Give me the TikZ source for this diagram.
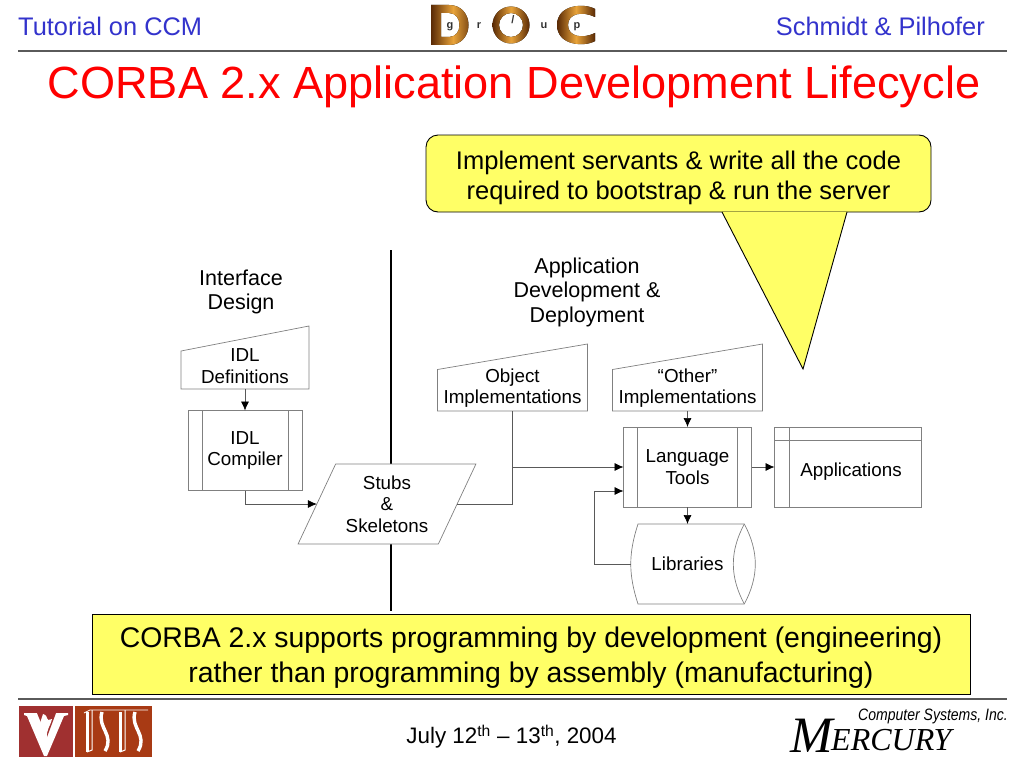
\documentclass[tikz,border=0pt]{standalone}
\usepackage{fontspec}
\setmainfont{Liberation Sans}
\newfontfamily\mercuryfont{Liberation Serif}
\usetikzlibrary{arrows.meta, calc, positioning, shapes.geometric}
\definecolor{calloutYellow}{HTML}{FFFF66}
\definecolor{headerBlue}{HTML}{3333CC}
\definecolor{ruleGray}{HTML}{808080}
\definecolor{boxGray}{HTML}{808080}
\definecolor{vandyRed}{HTML}{A03030}
\definecolor{isisRust}{HTML}{A83A14}
\definecolor{goldDark}{HTML}{5A2A05}
\definecolor{goldLight}{HTML}{E8A33A}
\tikzset{
    boxline/.style={draw=boxGray, line width=0.7pt},
    boxnode/.style={inner sep=0pt, outer sep=0pt, align=center, font=\fontsize{18.8}{21.5}\selectfont},
    slantnode/.style 2 args={boxnode, minimum width=#1, minimum height=#2},
    toolbox/.style={boxnode, boxline, fill=white, minimum width=#1, minimum height=80},
    flowline/.style={draw=black!65, line width=0.7pt, -{Latex[length=9pt, width=8pt, black]}},
    plainline/.style={draw=black!65, line width=0.7pt},
    headnode/.style={inner sep=0pt, align=center, font=\fontsize{21.5}{24.5}\selectfont},
    notebox/.style={draw=black, line width=0.9pt, fill=calloutYellow, inner sep=0pt, outer sep=0pt},
    bannertext/.style={inner sep=0pt, font=\fontsize{25.4}{26}\selectfont, text=headerBlue},
    logoletter/.style={inner sep=0pt, font=\bfseries\fontsize{11}{11}\selectfont, text=black!80},
    goldmetal/.style={left color=goldDark, right color=goldDark, middle color=goldLight, draw=none, even odd rule}
}
\newcommand{\slantoutline}[3]{\draw[boxline] (#1.south west) -- (#1.south east) -- ([yshift=#2pt]#1.north east) -- ([yshift=-#3pt]#1.north west) -- cycle;}
\newcommand{\toolbars}[3]{\foreach \bar/\corner in {#2/west, -#3/east}{\draw[boxline] ([xshift=\bar pt]#1.north \corner) -- ([xshift=\bar pt]#1.south \corner);}}
\begin{document}
\begin{tikzpicture}[x=1pt, y=-1pt]
    \useasboundingbox (0,0) rectangle (1024,768);
    % banner
    \node[bannertext, anchor=base west] (tutorial) at (18,36) {Tutorial on CCM};
    \node[bannertext, anchor=base east] (authors) at (985,36) {Schmidt \& Pilhofer};
    \draw[ruleGray!70!black, line width=1.1pt] (18,51) -- (1007,51);
    \draw[ruleGray!70!black, line width=1.1pt] (18,699) -- (1007,699);
    \node[inner sep=0pt, anchor=base, text=red, font=\fontsize{45.1}{50}\selectfont] (title) at (514,98) {CORBA 2.x Application Development Lifecycle};
    % DOC logo
    \fill[goldmetal] (431,5) -- (449,5) .. controls (475,5) and (475,45) .. (449,45) -- (431,45) -- cycle
        (441,13) -- (449,13) .. controls (463,13) and (463,37) .. (449,37) -- (441,37) -- cycle;
    \fill[goldmetal] (511,25) circle (18.5) (511,25) circle (12);
    \fill[goldmetal] (595,9) .. controls (585,3) and (557,4) .. (557,25) .. controls (557,46) and (585,47) .. (595,41) -- (595,33)
        .. controls (583,39) and (568,37) .. (568,25) .. controls (568,13) and (583,11) .. (595,17) -- cycle;
    \node[logoletter] (logog) at (450,27) {g};
    \node[logoletter] (logor) at (479,26) {r};
    \node[logoletter] (logoi) at (513,20) {/};
    \node[logoletter] (logou) at (544,26) {u};
    \node[logoletter] (logop) at (577,27) {p};
    % divider
    \draw[black, line width=2pt] (391,250) -- (391,611);
    % headings
    \node[headnode] (ifhead) at (241,292) {Interface\\Design};
    \node[headnode] (apphead) at (587,292) {Application\\Development \&\\Deployment};
    % left column
    \node[slantnode={128pt}{46pt}] (idldef) at (245,366) {IDL\\Definitions};
    \slantoutline{idldef}{17}{8}
    \node[toolbox=114pt] (idlcomp) at (245,450.5) {IDL\\Compiler};
    \toolbars{idlcomp}{14}{14}
    \node[trapezium, trapezium left angle=62, trapezium right angle=118, trapezium stretches=true, boxnode, boxline, fill=white, minimum width=178pt, minimum height=80pt] (stubs) at (387,504) {Stubs\\\&\\Skeletons};
    % right column
    \node[slantnode={150pt}{46pt}] (objimpl) at (512.5,388) {Object\\Implementations};
    \slantoutline{objimpl}{21}{4.5}
    \node[slantnode={150pt}{46pt}] (othimpl) at (687.5,388) {``Other''\\Implementations};
    \slantoutline{othimpl}{21}{4.5}
    \node[toolbox=128pt] (langtools) at (687.5,467) {Language\\Tools};
    \toolbars{langtools}{14}{14.5}
    \node[toolbox=147pt] (apps) at (848,467) {\hspace*{6pt}\rule{0pt}{23pt}Applications};
    \draw[boxline] ([xshift=14.5pt]apps.north west) -- ([xshift=14.5pt]apps.south west);
    \draw[boxline] ([yshift=-13pt]apps.north west) -- ([yshift=-13pt]apps.north east);
    \node[boxnode, minimum width=113.6pt, minimum height=80pt] (libs) at (687.5,564) {Libraries};
    \draw[boxline] ([xshift=7.3pt]libs.north west) to[bend right=18] ([xshift=7.3pt]libs.south west) -- (libs.south east) to[bend right=28] (libs.north east) -- cycle;
    \draw[boxline] (libs.south east) to[bend left=28] (libs.north east);
    % connectors
    \coordinate (objturn) at (objimpl.south |- langtools.west);
    \draw[flowline] (idldef.south) -- (idlcomp.north);
    \draw[flowline] (idlcomp.south) |- (stubs.west);
    \draw[plainline] (objimpl.south) |- (stubs.east);
    \draw[flowline] (objturn) -- (langtools.west);
    \draw[flowline] (othimpl.south) -- (langtools.north);
    \draw[flowline] (langtools.east) -- (apps.west);
    \draw[flowline] (langtools.south) -- (libs.north);
    \draw[flowline] (libs.west) -- ++(-36,0) |- ([yshift=-24pt]langtools.west);
    % callout
    \node[notebox, rounded corners=12pt, minimum width=505pt, minimum height=77pt] (servants) at (678.5,173.5) {};
    \coordinate (servtip) at (803,369);
    \fill[calloutYellow] ([xshift=43.5pt]servants.south) -- (servtip) -- ([xshift=168.5pt]servants.south) -- cycle;
    \draw[black, line width=0.9pt] ([xshift=43.5pt]servants.south) -- (servtip) -- ([xshift=168.5pt]servants.south);
    \node[inner sep=0pt, align=center, font=\fontsize{25.5}{30}\selectfont] (servtext) at ([yshift=-4pt]servants.center) {Implement servants \& write all the code\\required to bootstrap \& run the server};
    \node[notebox, minimum width=878pt, minimum height=80pt] (engnote) at (531,654) {};
    \node[inner sep=0pt, align=center, font=\fontsize{28.4}{35}\selectfont] (engtext) at ([yshift=-4pt]engnote.center) {CORBA 2.x supports programming by development (engineering)\\rather than programming by assembly (manufacturing)};
    % footer
    \node[inner sep=0pt, font=\fontsize{22.4}{24}\selectfont] (datenode) at (511.5,736.5) {July 12\textsuperscript{th} -- 13\textsuperscript{th}, 2004};
    % V and ISIS logos
    \fill[vandyRed] (19,706) rectangle (73,757);
    \fill[isisRust] (75,706) rectangle (152,757);
    \fill[white] (24,713) -- (68,713) -- (68,715) -- (64,716) -- (47,756) -- (44,756) -- (27,716) -- (24,715) -- cycle;
    \fill[vandyRed] (37,713) -- (56,713) -- (47,737) -- cycle;
    \fill[white] (43,714) .. controls (50,716) and (44,722) .. (52,719) .. controls (50,727) and (46,730) .. (47,738) .. controls (42,731) and (38,725) .. (41,720) -- cycle;
    \foreach \isisx in {87,120}{
        \draw[white, line width=3pt] (\isisx,712) -- (\isisx,752);
        \draw[white, line width=1pt] (\isisx+5,710) -- (\isisx+5,750) -- (\isisx,752);
        \draw[white, line width=3.4pt] (\isisx+15,712) .. controls (\isisx+10,728) and (\isisx+28,735) .. (\isisx+18,751);
    }
    \draw[white, line width=0.8pt] (84,713) -- (90,710) -- (148,710);
    % Mercury logo
    \node[inner sep=0pt, anchor=base west, font=\mercuryfont\itshape\fontsize{51}{51}\selectfont] (mercm) at (790,752) {M};
    \node[inner sep=0pt, anchor=base west, font=\mercuryfont\itshape\fontsize{32}{32}\selectfont] (mercrest) at (831,750) {ERCURY};
    \node[inner sep=0pt, anchor=base east, xscale=0.85, transform shape, font=\itshape\fontsize{16.5}{17}\selectfont] (mercsys) at (1008,720) {Computer Systems, Inc.};
\end{tikzpicture}
\end{document}
